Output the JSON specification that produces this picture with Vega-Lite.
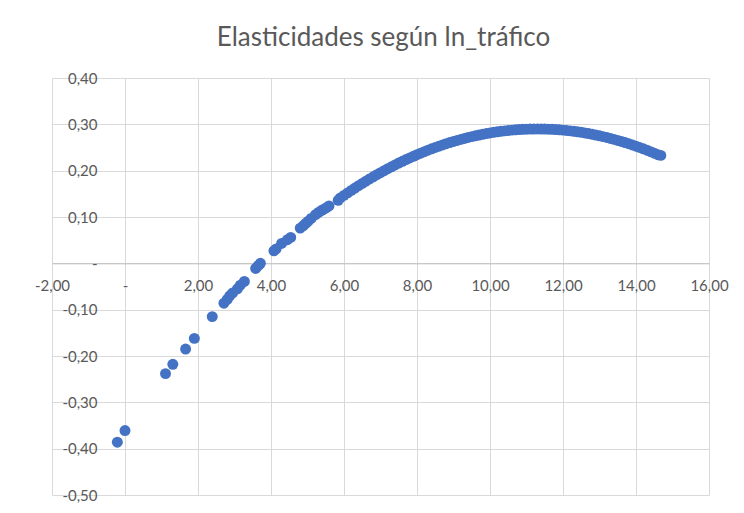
{
  "$schema": "https://vega.github.io/schema/vega-lite/v6.json",
  "width": 657,
  "height": 417,
  "autosize": "none",
  "padding": {"left": 52, "top": 78, "right": 35, "bottom": 18},
  "background": "white",
  "title": {"text": "Elasticidades según ln_tráfico", "font": "Lato", "fontSize": 26, "fontWeight": "normal", "color": "#595959", "anchor": "middle", "frame": "group", "offset": 20, "dx": 3},
  "config": {"view": {"stroke": null}},
  "data": {"values": [
    {"x": -0.21, "y": -0.386}, {"x": 0.0, "y": -0.361}, {"x": 1.11, "y": -0.238}, {"x": 1.31, "y": -0.218},
    {"x": 1.66, "y": -0.185}, {"x": 1.90, "y": -0.162}, {"x": 2.39, "y": -0.115}, {"x": 2.71, "y": -0.086},
    {"x": 2.80, "y": -0.078}, {"x": 2.87, "y": -0.070}, {"x": 2.95, "y": -0.064}, {"x": 3.08, "y": -0.055},
    {"x": 3.16, "y": -0.047}, {"x": 3.27, "y": -0.039}, {"x": 3.58, "y": -0.011}, {"x": 3.65, "y": -0.005},
    {"x": 3.71, "y": 0.0}, {"x": 4.08, "y": 0.027}, {"x": 4.14, "y": 0.031}, {"x": 4.29, "y": 0.043},
    {"x": 4.45, "y": 0.051}, {"x": 4.54, "y": 0.056}, {"x": 4.80, "y": 0.076}, {"x": 4.88, "y": 0.081},
    {"x": 4.95, "y": 0.086}, {"x": 5.02, "y": 0.091}, {"x": 5.10, "y": 0.097}, {"x": 5.22, "y": 0.105},
    {"x": 5.30, "y": 0.110}, {"x": 5.38, "y": 0.114}, {"x": 5.45, "y": 0.117}, {"x": 5.52, "y": 0.120},
    {"x": 5.59, "y": 0.124}, {"x": 5.84, "y": 0.136},
    {"x": 5.9, "y": 0.1413}, {"x": 6.0, "y": 0.1467}, {"x": 6.1, "y": 0.1521}, {"x": 6.2, "y": 0.1573},
    {"x": 6.3, "y": 0.1625}, {"x": 6.4, "y": 0.1675}, {"x": 6.5, "y": 0.1725}, {"x": 6.6, "y": 0.1773},
    {"x": 6.7, "y": 0.1821}, {"x": 6.8, "y": 0.1867}, {"x": 6.9, "y": 0.1913}, {"x": 7.0, "y": 0.1957},
    {"x": 7.1, "y": 0.2000}, {"x": 7.2, "y": 0.2043}, {"x": 7.3, "y": 0.2084}, {"x": 7.4, "y": 0.2124},
    {"x": 7.5, "y": 0.2164}, {"x": 7.6, "y": 0.2202}, {"x": 7.7, "y": 0.2239}, {"x": 7.8, "y": 0.2275},
    {"x": 7.9, "y": 0.2310}, {"x": 8.0, "y": 0.2345}, {"x": 8.1, "y": 0.2378}, {"x": 8.2, "y": 0.2410},
    {"x": 8.3, "y": 0.2441}, {"x": 8.4, "y": 0.2471}, {"x": 8.5, "y": 0.2500}, {"x": 8.6, "y": 0.2528},
    {"x": 8.7, "y": 0.2555}, {"x": 8.8, "y": 0.2581}, {"x": 8.9, "y": 0.2606}, {"x": 9.0, "y": 0.2630},
    {"x": 9.1, "y": 0.2653}, {"x": 9.2, "y": 0.2675}, {"x": 9.3, "y": 0.2696}, {"x": 9.4, "y": 0.2716},
    {"x": 9.5, "y": 0.2735}, {"x": 9.6, "y": 0.2753}, {"x": 9.7, "y": 0.2769}, {"x": 9.8, "y": 0.2785},
    {"x": 9.9, "y": 0.2800}, {"x": 10.0, "y": 0.2814}, {"x": 10.1, "y": 0.2827}, {"x": 10.2, "y": 0.2838},
    {"x": 10.3, "y": 0.2849}, {"x": 10.4, "y": 0.2859}, {"x": 10.5, "y": 0.2867}, {"x": 10.6, "y": 0.2875},
    {"x": 10.7, "y": 0.2882}, {"x": 10.8, "y": 0.2887}, {"x": 10.9, "y": 0.2892}, {"x": 11.0, "y": 0.2895},
    {"x": 11.1, "y": 0.2898}, {"x": 11.2, "y": 0.2899}, {"x": 11.3, "y": 0.2900}, {"x": 11.4, "y": 0.2899},
    {"x": 11.5, "y": 0.2898}, {"x": 11.6, "y": 0.2895}, {"x": 11.7, "y": 0.2892}, {"x": 11.8, "y": 0.2887},
    {"x": 11.9, "y": 0.2882}, {"x": 12.0, "y": 0.2875}, {"x": 12.1, "y": 0.2867}, {"x": 12.2, "y": 0.2859},
    {"x": 12.3, "y": 0.2849}, {"x": 12.4, "y": 0.2838}, {"x": 12.5, "y": 0.2827}, {"x": 12.6, "y": 0.2814},
    {"x": 12.7, "y": 0.2800}, {"x": 12.8, "y": 0.2785}, {"x": 12.9, "y": 0.2769}, {"x": 13.0, "y": 0.2753},
    {"x": 13.1, "y": 0.2735}, {"x": 13.2, "y": 0.2716}, {"x": 13.3, "y": 0.2696}, {"x": 13.4, "y": 0.2675},
    {"x": 13.5, "y": 0.2653}, {"x": 13.6, "y": 0.2630}, {"x": 13.7, "y": 0.2606}, {"x": 13.8, "y": 0.2581},
    {"x": 13.9, "y": 0.2555}, {"x": 14.0, "y": 0.2528}, {"x": 14.1, "y": 0.2500}, {"x": 14.2, "y": 0.2471},
    {"x": 14.3, "y": 0.2441}, {"x": 14.4, "y": 0.2410}, {"x": 14.5, "y": 0.2378}, {"x": 14.6, "y": 0.2345},
    {"x": 14.68, "y": 0.2330}
  ]},
  "mark": {"type": "point", "filled": true, "shape": "circle", "size": 120, "color": "#4472C4", "opacity": 1},
  "encoding": {
    "x": {
      "field": "x", "type": "quantitative",
      "scale": {"domain": [-2, 16], "nice": false, "zero": false},
      "axis": {
        "title": null, "orient": "bottom", "offset": -231.7,
        "values": [-2, 0, 2, 4, 6, 8, 10, 12, 14, 16],
        "labelExpr": "abs(datum.value) < 1e-9 ? '-\u00a0' : (datum.value < 0 ? '-' : '') + replace(format(abs(datum.value), '.2f'), '.', ',')",
        "labelFont": "Lato", "labelFontSize": 15, "labelColor": "#595959", "labelPadding": 15,
        "labelFlush": false, "labelOverlap": false, "labelBound": false,
        "ticks": false, "domain": true, "domainColor": "#bfbfbf", "domainWidth": 1,
        "grid": true, "gridColor": "#d9d9d9", "gridWidth": 1
      }
    },
    "y": {
      "field": "y", "type": "quantitative",
      "scale": {"domain": [-0.5, 0.4], "nice": false, "zero": false},
      "axis": {
        "title": null, "orient": "left", "offset": -73,
        "values": [-0.5, -0.4, -0.3, -0.2, -0.1, 0, 0.1, 0.2, 0.3, 0.4],
        "labelExpr": "abs(datum.value) < 1e-9 ? '-\u00a0\u00a0\u00a0' : (datum.value < 0 ? '-' : '') + replace(format(abs(datum.value), '.2f'), '.', ',')",
        "labelFont": "Lato", "labelFontSize": 15, "labelColor": "#595959", "labelPadding": 28,
        "labelFlush": false, "labelOverlap": false, "labelBound": false,
        "ticks": false, "domain": false,
        "grid": true, "gridColor": "#d9d9d9", "gridWidth": 1
      }
    }
  }
}
